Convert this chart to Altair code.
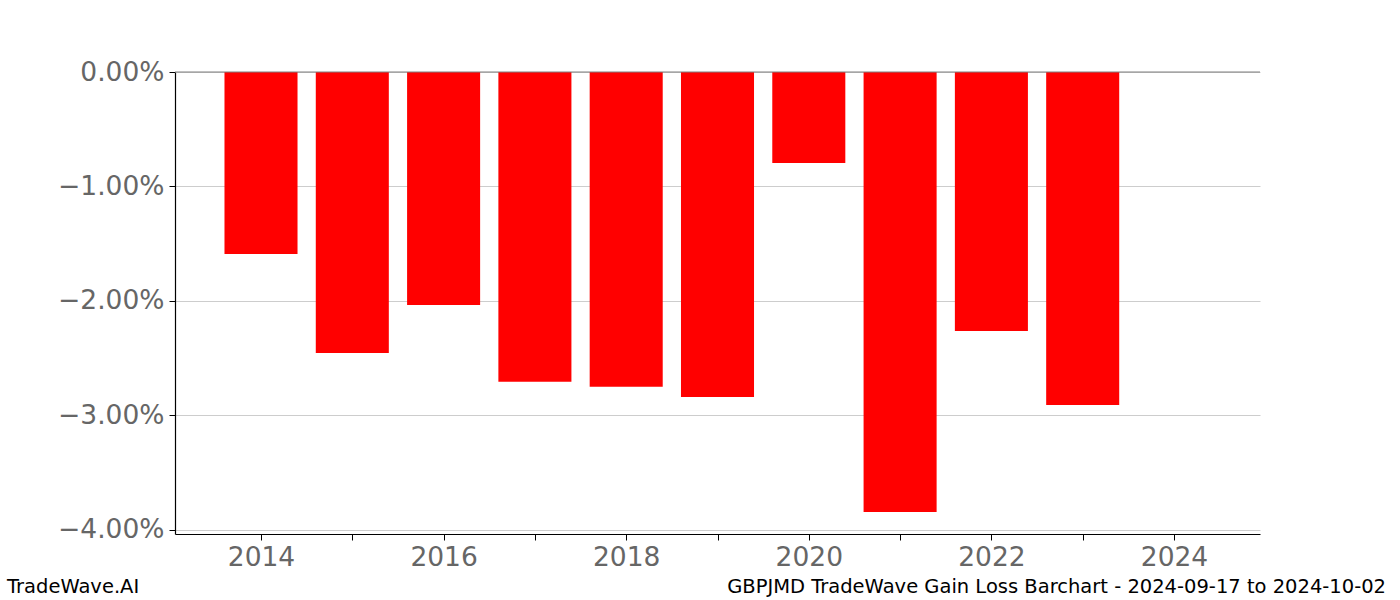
import altair as alt
import pandas as pd

years = [2014, 2015, 2016, 2017, 2018, 2019, 2020, 2021, 2022, 2023]
returns = [-0.0159, -0.02455, -0.02035, -0.02705, -0.0275, -0.02838, -0.00795, -0.03843, -0.02262, -0.02908]
tick_years = [2014, 2015, 2016, 2017, 2018, 2019, 2020, 2021, 2022, 2023, 2024]
y_ticks = [0.0, -0.01, -0.02, -0.03, -0.04]
footer_left = "TradeWave.AI"
footer_right = "GBPJMD TradeWave Gain Loss Barchart - 2024-09-17 to 2024-10-02"

df = pd.DataFrame({"year": years, "ret": returns})

W, H = 1085, 462
FONT = "DejaVu Sans"

xscale = alt.Scale(domain=[2013.058, 2024.942], nice=False, zero=False)
yscale = alt.Scale(domain=[-0.04035, 0.0], nice=False)

bars = alt.Chart(df).transform_calculate(
    x0="datum.year - 0.4", x1="datum.year + 0.4"
).mark_bar(color="#ff0000").encode(
    x=alt.X("x0:Q", scale=xscale,
            axis=alt.Axis(values=tick_years, title=None, grid=False,
                          labelExpr="datum.value % 2 == 0 ? format(datum.value, 'd') : ''",
                          labelFontSize=26.5, labelColor="#666666", labelFont=FONT,
                          domainColor="black", domainWidth=1.2, tickColor="black",
                          tickSize=6, labelPadding=4)),
    x2="x1:Q",
    y=alt.Y("ret:Q", scale=yscale,
            axis=alt.Axis(values=y_ticks, format=".2%", title=None, grid=True,
                          gridColor="#c0c0c0", gridWidth=0.8,
                          labelFontSize=26.5, labelColor="#666666", labelFont=FONT,
                          domainColor="black", domainWidth=1.2, tickColor="black",
                          tickSize=6, labelPadding=5)),
    y2=alt.datum(0),
)

zero = alt.Chart(pd.DataFrame({"v": [0.0]})).mark_rule(color="#808080", strokeWidth=1.2).encode(
    y=alt.Y("v:Q", scale=yscale)
)

left_txt = alt.Chart(pd.DataFrame({"t": [footer_left]})).mark_text(
    align="left", baseline="middle", fontSize=19.5, font=FONT, color="black"
).encode(text="t:N", x=alt.value(-168), y=alt.value(515))

right_txt = alt.Chart(pd.DataFrame({"t": [footer_right]})).mark_text(
    align="right", baseline="middle", fontSize=19.5, font=FONT, color="black"
).encode(text="t:N", x=alt.value(1211), y=alt.value(515))

chart = alt.layer(bars, zero, left_txt, right_txt).properties(
    width=W, height=H,
    autosize=alt.AutoSizeParams(type="none"),
    padding={"left": 175, "top": 72, "right": 140, "bottom": 66},
    view=alt.ViewBackground(strokeWidth=0, strokeOpacity=0, stroke="white"),
).configure_view(strokeOpacity=0, strokeWidth=0, stroke="white"
).configure_axisX(grid=False).configure(background="white")

chart.save("out.html", embed_options={"renderer": "svg", "actions": False})
